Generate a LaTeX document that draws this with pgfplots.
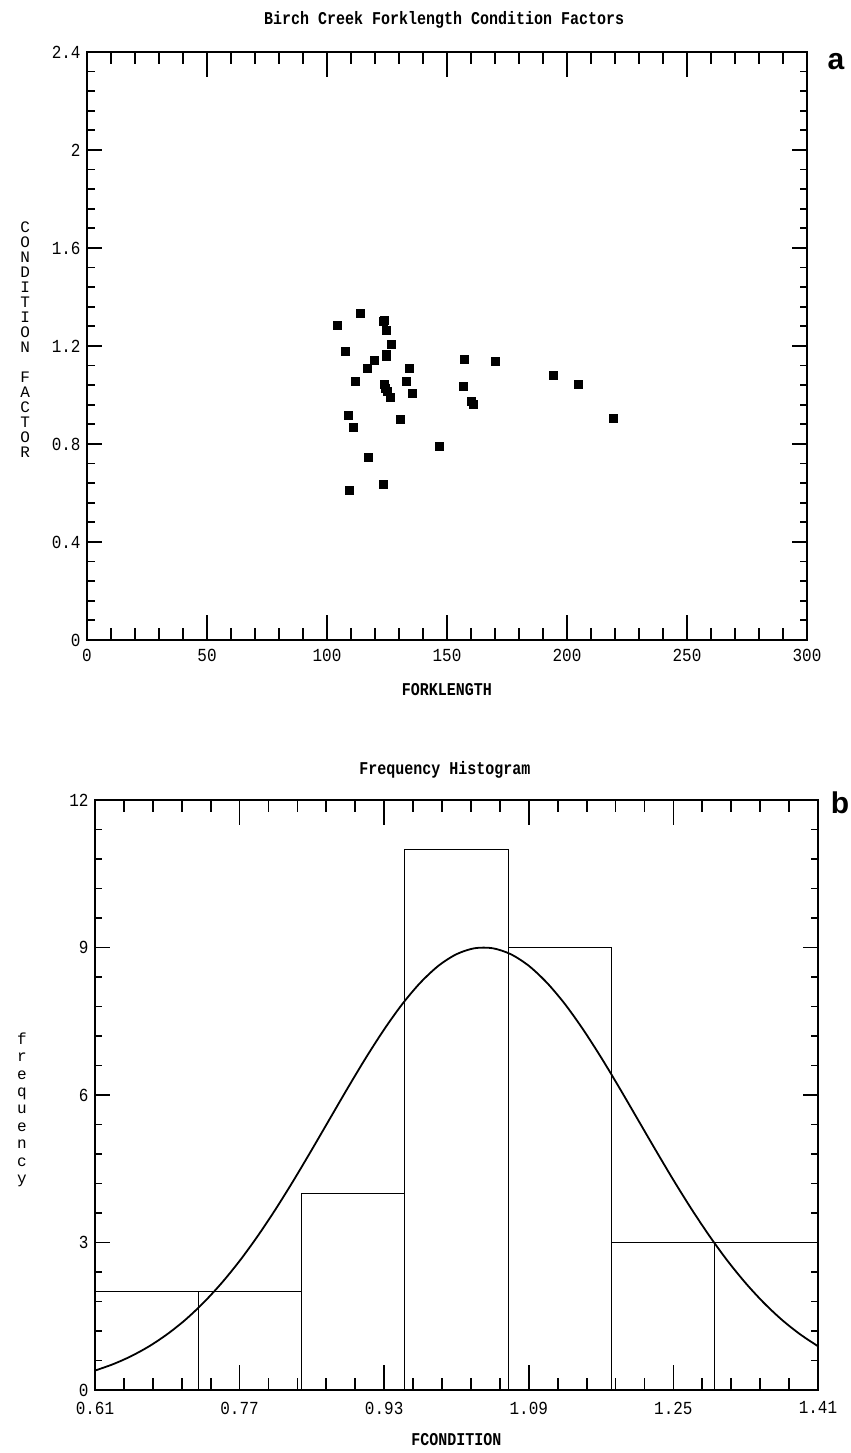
\documentclass[border=0pt]{standalone}
\usepackage{pgfplots}
\pgfplotsset{compat=1.18}
\usepackage{fontspec}
\newfontfamily\plotfont{Liberation Mono}
\newfontfamily\panelfont{Liberation Sans}

% Fork length (mm) and condition factor of the Birch Creek sample
\pgfplotstableread{
fl     cf
113.8  1.332
104.4  1.286
123.5  1.299
123.8  1.305
124.9  1.264
126.9  1.207
107.5  1.176
124.8  1.159
124.6  1.165
119.9  1.141
157.3  1.147
170.1  1.137
116.9  1.110
134.2  1.109
194.4  1.080
111.8  1.056
133.1  1.054
123.9  1.042
124.4  1.028
125.1  1.016
126.3  0.990
204.8  1.042
156.7  1.035
135.5  1.005
160.0  0.975
160.8  0.963
109.0  0.918
130.5  0.901
219.3  0.903
111.1  0.869
147.0  0.792
117.3  0.745
123.5  0.637
109.3  0.611
}\fishdata

\pgfplotsset{
  plotter/.style={
    scale only axis,
    axis line style={line width=1pt},
    tick style={black, line width=0.9pt},
    tick align=inside,
    minor tick num=4,
    xtick style={/pgfplots/major tick length=12.5pt, /pgfplots/minor tick length=6pt},
    ytick style={/pgfplots/major tick length=7.5pt, /pgfplots/minor tick length=3.75pt},
    xticklabel style={font=\plotfont\fontsize{8}{8}\selectfont, inner sep=0pt, yshift=-4.5pt, yscale=1.15},
    yticklabel style={font=\plotfont\fontsize{8}{8}\selectfont, inner sep=0pt, xshift=-3pt, yscale=1.15},
    /pgf/number format/assume math mode=true,
    every axis title/.style={anchor=center, font=\plotfont\bfseries\fontsize{7.5}{8}\selectfont, yscale=1.2},
    every axis x label/.style={at={(axis description cs:0.5,-0.084)}, anchor=center,
      font=\plotfont\bfseries\fontsize{7.5}{8}\selectfont, yscale=1.2},
  },
}

\begin{document}
\begin{tikzpicture}
\useasboundingbox (0,0) rectangle (425.5pt,726.5pt);

% (a) condition factor against fork length
\begin{axis}[plotter,
  at={(43.5pt,406.5pt)}, anchor=south west,
  width=360pt, height=294pt,
  xmin=0, xmax=300, ymin=0, ymax=2.4,
  xtick={0,50,...,300},
  xticklabels={0,50,100,150,200,250,300},
  ytick={0,0.4,0.8,1.2,1.6,2,2.4},
  yticklabels={0,0.4,0.8,1.2,1.6,2,2.4},
  title={Birch Creek Forklength Condition Factors},
  title style={at={(axis description cs:0.496,1.054)}},
  xlabel={FORKLENGTH},
  ylabel={C\\O\\N\\D\\I\\T\\I\\O\\N\\~\\F\\A\\C\\T\\O\\R},
  every axis y label/.style={at={(axis description cs:-0.086,0.51)}, anchor=center,
    align=center, font=\plotfont\fontsize{8}{7.5}\selectfont},
]
\addplot[only marks, mark=square*, mark size=2pt, black] table[x=fl, y=cf] {\fishdata};
\end{axis}

% (b) frequency histogram of the condition factor with fitted normal curve
\begin{axis}[plotter,
  at={(47.5pt,31.5pt)}, anchor=south west,
  width=361.5pt, height=295pt,
  xmin=0.61, xmax=1.41, ymin=0, ymax=12,
  xtick={0.61,0.77,0.93,1.09,1.25,1.41},
  xticklabels={0.61,0.77,0.93,1.09,1.25,1.41},
  xticklabel style={yshift=-1pt},
  ytick={0,3,6,9,12},
  yticklabels={0,3,6,9,12},
  title={Frequency Histogram},
  title style={at={(axis description cs:0.484,1.051)}},
  xlabel={FCONDITION},
  ylabel={f\\r\\e\\q\\u\\e\\n\\c\\y},
  every axis y label/.style={at={(axis description cs:-0.101,0.475)}, anchor=center,
    align=center, font=\plotfont\fontsize{8}{8.7}\selectfont},
]
\addplot[ybar interval, draw=black, fill=none, line width=0.6pt] coordinates {
  (0.6100,2) (0.7243,2) (0.8386,4) (0.9529,11) (1.0671,9) (1.1814,3) (1.2957,3) (1.4100,3)
};
\addplot[black, line width=0.9pt, smooth] coordinates {
  (0.61,0.395) (0.63,0.525) (0.65,0.688) (0.67,0.890) (0.69,1.136) (0.71,1.428)
  (0.73,1.774) (0.75,2.173) (0.77,2.625) (0.79,3.130) (0.81,3.681) (0.83,4.271)
  (0.85,4.890) (0.87,5.522) (0.89,6.153) (0.91,6.764) (0.93,7.335) (0.95,7.849)
  (0.97,8.284) (0.99,8.628) (1.01,8.864) (1.03,8.985) (1.05,8.985) (1.07,8.864)
  (1.09,8.628) (1.11,8.284) (1.13,7.849) (1.15,7.335) (1.17,6.764) (1.19,6.153)
  (1.21,5.522) (1.23,4.890) (1.25,4.271) (1.27,3.681) (1.29,3.130) (1.31,2.625)
  (1.33,2.173) (1.35,1.774) (1.37,1.428) (1.39,1.136) (1.41,0.890)
};
\end{axis}

\node[font=\panelfont\bfseries\fontsize{15}{15}\selectfont] at (418pt,695.5pt) {a};
\node[font=\panelfont\bfseries\fontsize{15}{15}\selectfont] at (420pt,325pt) {b};
\end{tikzpicture}
\end{document}
